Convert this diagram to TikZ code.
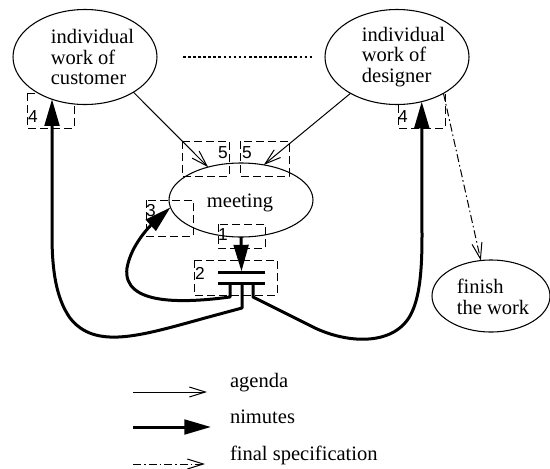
\documentclass[tikz,border=0pt]{standalone}
\usepackage{fontspec}
\setmainfont{Liberation Serif}
\newfontfamily\tagfont{Liberation Sans}
\usetikzlibrary{arrows.meta,shapes.geometric}

\begin{document}
\begin{tikzpicture}[x=0.75pt,y=-0.75pt,
  every node/.style={inner sep=0pt, outer sep=0pt},
  activity/.style={draw, line width=0.8pt, ellipse, fill=white},
  caption/.style={font=\fontsize{15.4}{15.6}\selectfont, align=left},
  tagbox/.style={draw, line width=0.75pt, dash pattern=on 6pt off 3pt},
  tagnum/.style={font=\tagfont\fontsize{13}{13}\selectfont},
  agenda/.style={line width=0.75pt, -{Straight Barb[length=12pt,width=7.5pt]}},
  minutes/.style={line width=2.25pt, line join=round, -{Triangle[length=20pt,width=11pt]}},
  finalspec/.style={line width=0.75pt, dash pattern=on 6pt off 2.25pt on 1.2pt off 2.25pt,
    -{Straight Barb[length=12pt,width=7.5pt]}},
  bar/.style={line width=2.25pt},
  dotline/.style={line width=2pt, dash pattern=on 2pt off 1.8pt},
]
\useasboundingbox (0,0) rectangle (550,468);

% meeting activity (boxes are drawn over it)
\node[activity, minimum width=108pt, minimum height=55.5pt] (meet) at (241,200) {};

% dashed tag boxes
\draw[tagbox] (27,93) rectangle (74,128);
\draw[tagbox] (398,93) rectangle (445,128);
\draw[tagbox] (182,141) rectangle (229,176);
\draw[tagbox] (240,141) rectangle (289,176);
\draw[tagbox] (146,200) rectangle (193,236);
\draw[tagbox] (218,224) rectangle (265,248);
\draw[tagbox] (194,260) rectangle (277,295);

% individual work activities
\node[activity, minimum width=108pt, minimum height=71.25pt] (cust) at (85,57) {};
\node[activity, minimum width=108pt, minimum height=71.25pt] (des) at (397,57) {};
\node[activity, minimum width=88.5pt, minimum height=54pt] (fin) at (491,296) {};

\node[caption] (custtext) at (92.5,57) {individual\\work of\\customer};
\node[caption] (destext) at (403.5,57) {individual\\work of\\designer};
\node[caption] (fintext) at (493,297) {finish\\the work};
\node[caption, anchor=base] (meettext) at (240,207) {meeting};

% tag numbers
\node[tagnum] (n4a) at (33,117) {4};
\node[tagnum] (n4b) at (403,117) {4};
\node[tagnum] (n5a) at (223,153) {5};
\node[tagnum] (n5b) at (247,153) {5};
\node[tagnum] (n3) at (151,211) {3};
\node[tagnum] (n1) at (223,235) {1};
\node[tagnum] (n2) at (200,273) {2};

% more participants
\draw[dotline, shorten <=19.5pt, shorten >=9pt] (cust.east) -- (des.west);

% agenda flows
\draw[agenda] (cust.-36.5) -- (meet.135);
\draw[agenda] (des.-142.4) -- (meet.57.4);

% final specification
\draw[finalspec] (des.-38.4) -- (fin.106.6);

% minutes store
\coordinate (capA) at (241.5,271.5);
\draw[bar] (218,272) -- (265,272);
\draw[bar] (218,283) -- (265,283);
\draw[minutes] (meet.south) -- (capA);

\coordinate (stA) at (230,283);
\coordinate (stB) at (242,283);
\coordinate (stC) at (253,283);

\draw[minutes] (stA) -- (230,297) .. controls (185,303) and (122,306) .. (127,268)
  .. controls (131,245) and (150,226) .. (meet.186);
\draw[minutes] (stB) -- (242,308) -- (205,318) .. controls (140,336) and (95,350) .. (70,318)
  .. controls (56,298) and (52,270) .. (52,235) -- (cust.232);
\draw[minutes] (stC) -- (253,297) -- (313,327) .. controls (345,343) and (392,347) .. (410,316)
  .. controls (420,298) and (422,270) .. (422,235) -- (des.-61);

% legend
\coordinate (la1) at (133,392);
\coordinate (la2) at (207,392);
\draw[agenda] (la1) -- (la2);
\node[caption, anchor=base west] (lat) at (230,387) {agenda};
\coordinate (lm1) at (133,427);
\coordinate (lm2) at (211,427);
\draw[minutes] (lm1) -- (lm2);
\node[caption, anchor=base west] (lmt) at (230,423) {nimutes};
\coordinate (lf1) at (133,464);
\coordinate (lf2) at (205,464);
\draw[finalspec] (lf1) -- (lf2);
\node[caption, anchor=base west] (lft) at (230,460) {final specification};
\end{tikzpicture}
\end{document}
